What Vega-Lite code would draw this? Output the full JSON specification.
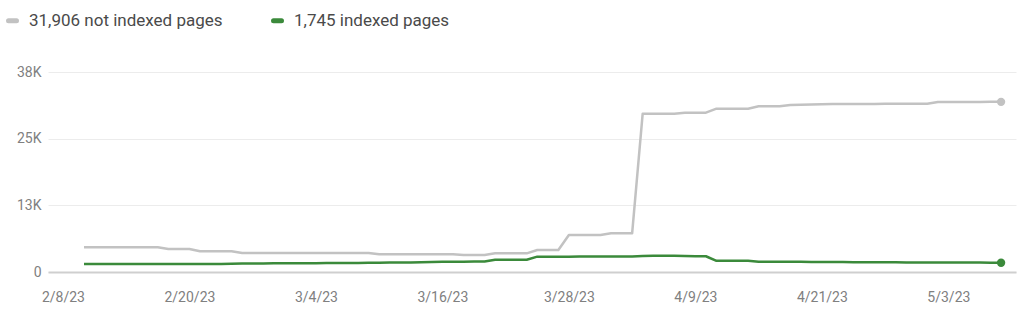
{
  "$schema": "https://vega.github.io/schema/vega-lite/v6.json",
  "autosize": {"type": "none"},
  "width": 968,
  "height": 200,
  "padding": {"left": 48, "top": 72, "right": 8, "bottom": 49},
  "background": "white",
  "config": {
    "view": {"stroke": null},
    "font": "Roboto"
  },
  "data": {
    "values": [
      {"d": "2023-02-10", "n": 4630, "i": 1520},
      {"d": "2023-02-11", "n": 4630, "i": 1520},
      {"d": "2023-02-12", "n": 4630, "i": 1520},
      {"d": "2023-02-13", "n": 4630, "i": 1520},
      {"d": "2023-02-14", "n": 4630, "i": 1520},
      {"d": "2023-02-15", "n": 4630, "i": 1520},
      {"d": "2023-02-16", "n": 4630, "i": 1520},
      {"d": "2023-02-17", "n": 4630, "i": 1520},
      {"d": "2023-02-18", "n": 4310, "i": 1520},
      {"d": "2023-02-19", "n": 4310, "i": 1520},
      {"d": "2023-02-20", "n": 4310, "i": 1520},
      {"d": "2023-02-21", "n": 3880, "i": 1520},
      {"d": "2023-02-22", "n": 3880, "i": 1520},
      {"d": "2023-02-23", "n": 3880, "i": 1520},
      {"d": "2023-02-24", "n": 3880, "i": 1560},
      {"d": "2023-02-25", "n": 3560, "i": 1580},
      {"d": "2023-02-26", "n": 3560, "i": 1600},
      {"d": "2023-02-27", "n": 3560, "i": 1610},
      {"d": "2023-02-28", "n": 3560, "i": 1620},
      {"d": "2023-03-01", "n": 3560, "i": 1630},
      {"d": "2023-03-02", "n": 3560, "i": 1640},
      {"d": "2023-03-03", "n": 3560, "i": 1650},
      {"d": "2023-03-04", "n": 3560, "i": 1660},
      {"d": "2023-03-05", "n": 3560, "i": 1670},
      {"d": "2023-03-06", "n": 3560, "i": 1680},
      {"d": "2023-03-07", "n": 3560, "i": 1690},
      {"d": "2023-03-08", "n": 3560, "i": 1700},
      {"d": "2023-03-09", "n": 3560, "i": 1720},
      {"d": "2023-03-10", "n": 3320, "i": 1740},
      {"d": "2023-03-11", "n": 3320, "i": 1760},
      {"d": "2023-03-12", "n": 3320, "i": 1780},
      {"d": "2023-03-13", "n": 3320, "i": 1800},
      {"d": "2023-03-14", "n": 3320, "i": 1840},
      {"d": "2023-03-15", "n": 3320, "i": 1880},
      {"d": "2023-03-16", "n": 3320, "i": 1900},
      {"d": "2023-03-17", "n": 3320, "i": 1920},
      {"d": "2023-03-18", "n": 3190, "i": 1940},
      {"d": "2023-03-19", "n": 3190, "i": 1950},
      {"d": "2023-03-20", "n": 3190, "i": 1960},
      {"d": "2023-03-21", "n": 3500, "i": 2300},
      {"d": "2023-03-22", "n": 3500, "i": 2300},
      {"d": "2023-03-23", "n": 3500, "i": 2300},
      {"d": "2023-03-24", "n": 3500, "i": 2300},
      {"d": "2023-03-25", "n": 4125, "i": 2880},
      {"d": "2023-03-26", "n": 4125, "i": 2880},
      {"d": "2023-03-27", "n": 4125, "i": 2880},
      {"d": "2023-03-28", "n": 6940, "i": 2880},
      {"d": "2023-03-29", "n": 6940, "i": 2900},
      {"d": "2023-03-30", "n": 6940, "i": 2900},
      {"d": "2023-03-31", "n": 6940, "i": 2900},
      {"d": "2023-04-01", "n": 7260, "i": 2900},
      {"d": "2023-04-02", "n": 7260, "i": 2900},
      {"d": "2023-04-03", "n": 7260, "i": 2920},
      {"d": "2023-04-04", "n": 29680, "i": 3000},
      {"d": "2023-04-05", "n": 29680, "i": 3050},
      {"d": "2023-04-06", "n": 29680, "i": 3050},
      {"d": "2023-04-07", "n": 29680, "i": 3050},
      {"d": "2023-04-08", "n": 29870, "i": 3000},
      {"d": "2023-04-09", "n": 29870, "i": 2950},
      {"d": "2023-04-10", "n": 29870, "i": 2950},
      {"d": "2023-04-11", "n": 30620, "i": 2090},
      {"d": "2023-04-12", "n": 30620, "i": 2090},
      {"d": "2023-04-13", "n": 30620, "i": 2090},
      {"d": "2023-04-14", "n": 30620, "i": 2090},
      {"d": "2023-04-15", "n": 31070, "i": 1920},
      {"d": "2023-04-16", "n": 31070, "i": 1920},
      {"d": "2023-04-17", "n": 31070, "i": 1910},
      {"d": "2023-04-18", "n": 31310, "i": 1900},
      {"d": "2023-04-19", "n": 31350, "i": 1900},
      {"d": "2023-04-20", "n": 31400, "i": 1890},
      {"d": "2023-04-21", "n": 31450, "i": 1880},
      {"d": "2023-04-22", "n": 31500, "i": 1870},
      {"d": "2023-04-23", "n": 31500, "i": 1860},
      {"d": "2023-04-24", "n": 31510, "i": 1850},
      {"d": "2023-04-25", "n": 31510, "i": 1840},
      {"d": "2023-04-26", "n": 31520, "i": 1830},
      {"d": "2023-04-27", "n": 31530, "i": 1820},
      {"d": "2023-04-28", "n": 31540, "i": 1810},
      {"d": "2023-04-29", "n": 31540, "i": 1800},
      {"d": "2023-04-30", "n": 31550, "i": 1800},
      {"d": "2023-05-01", "n": 31560, "i": 1790},
      {"d": "2023-05-02", "n": 31870, "i": 1780},
      {"d": "2023-05-03", "n": 31880, "i": 1780},
      {"d": "2023-05-04", "n": 31880, "i": 1770},
      {"d": "2023-05-05", "n": 31890, "i": 1760},
      {"d": "2023-05-06", "n": 31890, "i": 1760},
      {"d": "2023-05-07", "n": 31900, "i": 1750},
      {"d": "2023-05-08", "n": 31906, "i": 1745}
    ],
    "format": {"parse": {"d": "date:'%Y-%m-%d'"}}
  },
  "transform": [
    {"fold": ["n", "i"], "as": ["series", "value"]}
  ],
  "encoding": {
    "x": {
      "field": "d",
      "type": "temporal",
      "scale": {
        "domain": [
          {"year": 2023, "month": 2, "date": 6, "hours": 14},
          {"year": 2023, "month": 5, "date": 9, "hours": 10}
        ]
      },
      "axis": {
        "title": null,
        "values": [
          {"year": 2023, "month": 2, "date": 8},
          {"year": 2023, "month": 2, "date": 20},
          {"year": 2023, "month": 3, "date": 4},
          {"year": 2023, "month": 3, "date": 16},
          {"year": 2023, "month": 3, "date": 28},
          {"year": 2023, "month": 4, "date": 9},
          {"year": 2023, "month": 4, "date": 21},
          {"year": 2023, "month": 5, "date": 3}
        ],
        "format": "%-m/%-d/%y",
        "grid": false,
        "ticks": false,
        "domain": true,
        "domainColor": "#cfcfcf",
        "domainWidth": 2,
        "labelPadding": 18,
        "labelFont": "Roboto",
        "labelFontSize": 14,
        "labelColor": "#808080",
        "labelFlush": false
      }
    },
    "y": {
      "field": "value",
      "type": "quantitative",
      "scale": {"domain": [0, 37500], "nice": false},
      "axis": {
        "title": null,
        "values": [0, 12500, 25000, 37500],
        "labelExpr": "datum.value == 0 ? '0' : round(datum.value / 1000) + 'K'",
        "grid": true,
        "gridColor": "#ececec",
        "gridWidth": 1,
        "ticks": false,
        "domain": false,
        "labelPadding": 7,
        "labelFont": "Roboto",
        "labelFontSize": 14,
        "labelColor": "#808080"
      }
    },
    "color": {
      "field": "series",
      "type": "nominal",
      "scale": {"domain": ["n", "i"], "range": ["#c2c2c2", "#3b8a3b"]}
    }
  },
  "layer": [
    {
      "mark": {"type": "line", "strokeWidth": 2.5, "strokeJoin": "round"},
      "encoding": {
        "color": {
          "field": "series",
          "type": "nominal",
          "scale": {"domain": ["n", "i"], "range": ["#c2c2c2", "#3b8a3b"]},
          "legend": {
            "title": null,
            "orient": "none",
            "legendX": -44,
            "legendY": -60,
            "direction": "horizontal",
            "symbolType": "stroke",
            "symbolSize": 64,
            "symbolStrokeWidth": 5,
            "labelFont": "Roboto",
            "labelFontSize": 17,
            "labelColor": "#4a4a4a",
            "labelOffset": 8,
            "labelLimit": 400,
            "columnPadding": 40,
            "labelExpr": "datum.label == 'n' ? '31,906 not indexed pages' : '1,745 indexed pages'",
            "encode": {"symbols": {"update": {"strokeCap": {"value": "round"}}}}
          }
        }
      }
    },
    {
      "transform": [
        {"filter": {"field": "d", "timeUnit": "yearmonthdate", "equal": {"year": 2023, "month": 5, "date": 8}}}
      ],
      "mark": {"type": "circle", "size": 70, "opacity": 1},
      "encoding": {
        "color": {
          "field": "series",
          "type": "nominal",
          "scale": {"domain": ["n", "i"], "range": ["#c2c2c2", "#3b8a3b"]},
          "legend": null
        }
      }
    }
  ]
}
